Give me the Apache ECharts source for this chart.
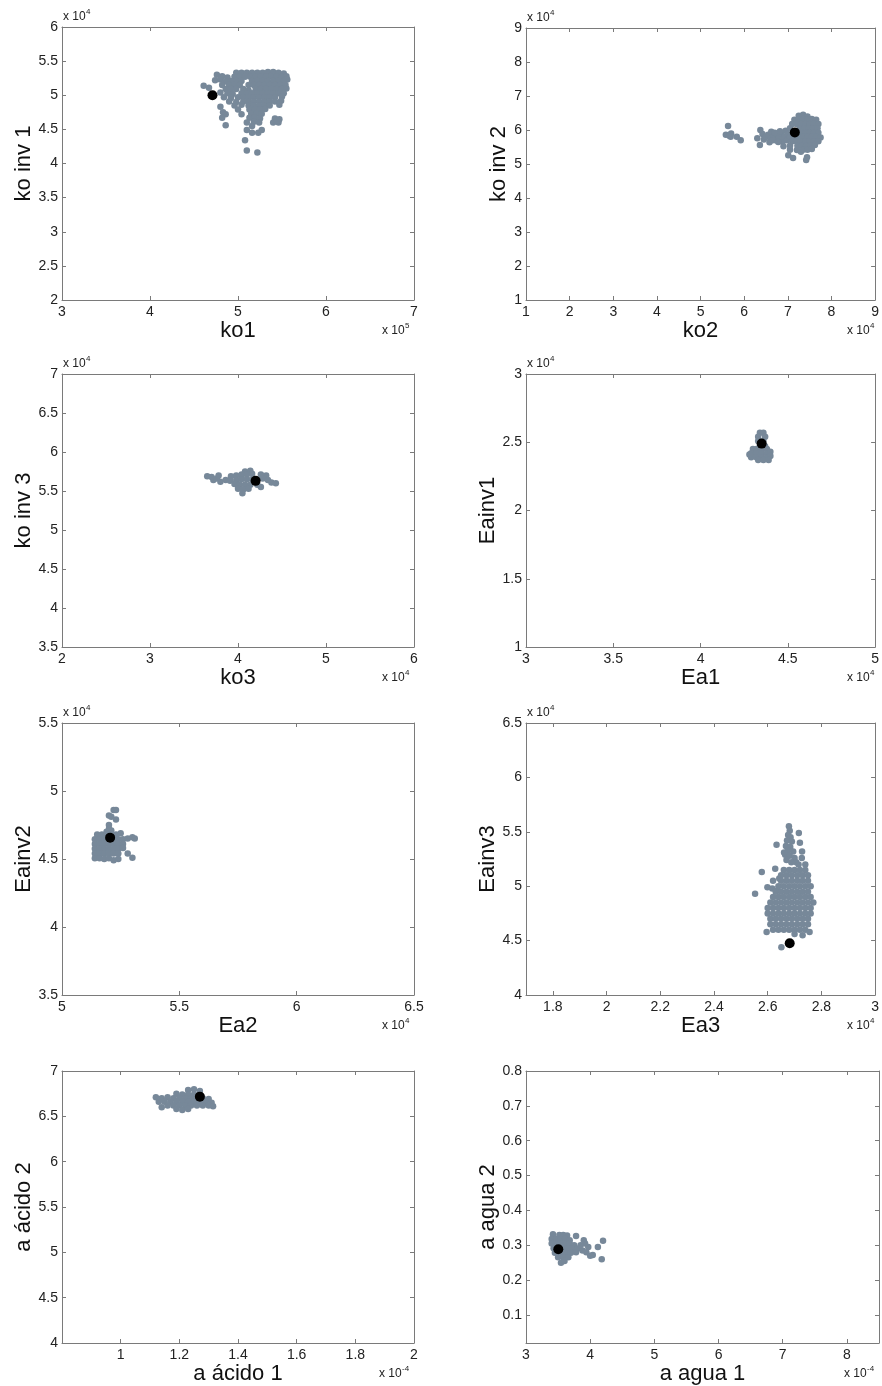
<!DOCTYPE html>
<html><head><meta charset="utf-8">
<script src="https://cdn.jsdelivr.net/npm/echarts@6/dist/echarts.min.js"></script>
<style>html,body{margin:0;padding:0;background:#fff}#c{width:882px;height:1386px}</style>
</head><body><div id="c"></div>
<script>
// ---------- data (values in the scaled units shown on the tick labels) ----------
const p1Cloud = [
[4.98,5.33],[5.04,5.33],[5.10,5.33],[5.16,5.33],[5.22,5.33],[5.28,5.33],[5.34,5.34],[5.40,5.34],[5.46,5.33],[5.52,5.32],
[4.76,5.30],[4.82,5.28],[4.88,5.26],[4.96,5.27],[5.02,5.27],[5.08,5.27],[5.14,5.27],[5.20,5.27],[5.26,5.28],[5.32,5.28],[5.38,5.28],[5.44,5.27],[5.50,5.27],[5.55,5.28],
[4.74,5.22],[4.80,5.23],[4.86,5.20],[4.92,5.21],[4.98,5.21],[5.04,5.21],[5.16,5.21],[5.22,5.21],[5.28,5.21],[5.34,5.21],[5.40,5.21],[5.46,5.21],[5.52,5.21],[5.56,5.23],
[4.61,5.14],[4.67,5.11],[4.82,5.15],[4.90,5.15],[4.96,5.15],[5.02,5.15],[5.12,5.15],[5.18,5.15],[5.24,5.15],[5.30,5.15],[5.36,5.15],[5.42,5.15],[5.48,5.15],[5.54,5.15],
[4.86,5.09],[4.92,5.09],[4.98,5.09],[5.06,5.09],[5.12,5.07],[5.20,5.09],[5.26,5.09],[5.32,5.09],[5.38,5.09],[5.44,5.09],[5.50,5.09],[5.55,5.10],
[4.80,5.04],[4.88,5.03],[4.94,5.02],[5.04,5.03],[5.10,5.03],[5.16,5.03],[5.22,5.03],[5.28,5.03],[5.34,5.03],[5.40,5.03],[5.46,5.03],[5.52,5.03],
[4.84,4.97],[4.92,4.96],[5.00,4.97],[5.06,4.97],[5.12,4.97],[5.18,4.97],[5.24,4.97],[5.30,4.97],[5.36,4.97],[5.42,4.97],[5.50,4.98],
[4.90,4.91],[4.98,4.90],[5.06,4.91],[5.12,4.91],[5.18,4.91],[5.24,4.91],[5.30,4.91],[5.36,4.91],[5.42,4.91],[5.49,4.92],
[4.80,4.83],[4.96,4.85],[5.04,4.86],[5.12,4.85],[5.18,4.85],[5.24,4.85],[5.30,4.85],[5.36,4.85],[5.47,4.86],
[4.83,4.75],[5.00,4.79],[5.13,4.79],[5.19,4.79],[5.25,4.79],[5.31,4.80],
[4.86,4.72],[5.04,4.72],[5.15,4.73],[5.21,4.73],[5.27,4.73],
[4.82,4.67],[5.13,4.67],[5.19,4.67],[5.25,4.66],[5.42,4.66],[5.47,4.65],
[5.10,4.60],[5.18,4.61],[5.24,4.60],[5.40,4.60],[5.46,4.60],[5.44,4.63],
[4.86,4.56],[5.16,4.55],
[5.10,4.49],[5.16,4.45],[5.23,4.45],[5.27,4.49],[5.08,4.34],[5.10,4.19],[5.22,4.16]
];
const p1Best = [[4.71,5.00]];

const p2Cloud = [
[5.63,6.12],[5.58,5.86],[5.70,5.90],[5.69,5.80],[5.83,5.80],[5.92,5.70],[5.66,5.83],
[6.30,5.76],[6.37,6.00],[6.36,5.56],[6.42,5.88],[6.45,5.72],[6.50,5.80],[6.55,5.86],[6.60,5.74],[6.62,5.95],[6.68,5.82],[6.72,5.70],[6.75,5.88],[6.80,5.78],[6.85,5.90],[6.88,5.66],[6.92,5.80],[6.95,5.98],[6.98,5.70],[6.90,5.52],[7.00,5.88],
[6.58,5.64],[6.65,5.70],[6.78,5.65],[6.82,5.96],[6.70,5.92],
[7.01,5.26],[7.12,5.18],[7.05,5.42],[7.21,5.41],[7.42,5.12],[7.44,5.20],[7.30,5.36],
[7.25,6.42],[7.35,6.45],[7.45,6.40],
[7.15,6.30],[7.25,6.30],[7.35,6.32],[7.45,6.30],[7.55,6.32],[7.65,6.30],
[7.10,6.18],[7.20,6.18],[7.30,6.18],[7.40,6.18],[7.50,6.18],[7.60,6.20],[7.70,6.18],
[7.05,6.05],[7.28,6.05],[7.38,6.05],[7.48,6.05],[7.58,6.05],[7.68,6.05],
[7.30,5.92],[7.40,5.92],[7.50,5.92],[7.60,5.92],[7.70,5.92],
[7.05,5.80],[7.15,5.80],[7.25,5.80],[7.35,5.80],[7.45,5.80],[7.55,5.80],[7.65,5.80],[7.75,5.78],
[7.10,5.67],[7.20,5.67],[7.30,5.67],[7.40,5.67],[7.50,5.67],[7.60,5.67],[7.70,5.67],
[7.05,5.54],[7.22,5.54],[7.32,5.54],[7.42,5.54],[7.52,5.54],[7.62,5.56],
[7.35,5.42],[7.45,5.42],[7.55,5.44]
];
const p2Best = [[7.16,5.93]];

const p3Cloud = [
[3.65,5.69],[3.70,5.68],[3.72,5.64],[3.76,5.66],[3.80,5.62],[3.78,5.70],
[4.08,5.75],[4.14,5.76],
[3.92,5.69],[3.98,5.70],[4.04,5.71],[4.10,5.71],[4.16,5.72],[4.26,5.71],[4.32,5.70],
[3.86,5.64],[3.91,5.63],[3.98,5.64],[4.04,5.65],[4.10,5.65],[4.16,5.65],[4.28,5.66],[4.34,5.64],
[3.96,5.59],[4.02,5.58],[4.08,5.58],[4.14,5.58],[4.22,5.58],[4.38,5.61],[4.43,5.60],
[4.00,5.53],[4.06,5.52],[4.12,5.53],[4.26,5.55],
[4.05,5.47]
];
const p3Best = [[4.20,5.63]];

const p4Cloud = [
[4.34,2.57],[4.36,2.57],[4.33,2.54],[4.37,2.54],[4.33,2.51],[4.36,2.51],[4.34,2.48],[4.37,2.47],
[4.30,2.45],[4.32,2.45],[4.35,2.45],[4.38,2.45],[4.29,2.42],[4.32,2.42],[4.35,2.42],[4.38,2.42],[4.40,2.43],
[4.29,2.39],[4.32,2.39],[4.35,2.39],[4.38,2.39],[4.40,2.40],[4.33,2.37],[4.36,2.37],[4.39,2.37],[4.28,2.41]
];
const p4Best = [[4.35,2.49]];

const p5Cloud = [
[5.15,4.68],[5.17,4.68],[5.19,4.68],[5.23,4.68],[5.25,4.69],
[5.14,4.645],[5.16,4.645],[5.18,4.645],[5.22,4.645],[5.24,4.645],[5.26,4.645],[5.28,4.65],[5.30,4.66],[5.31,4.65],
[5.14,4.61],[5.16,4.61],[5.18,4.61],[5.20,4.61],[5.22,4.61],[5.24,4.61],[5.26,4.61],
[5.14,4.575],[5.16,4.575],[5.18,4.575],[5.20,4.575],[5.22,4.575],[5.24,4.575],[5.26,4.58],
[5.14,4.54],[5.16,4.54],[5.18,4.54],[5.20,4.54],[5.22,4.54],[5.24,4.54],[5.28,4.54],
[5.14,4.505],[5.16,4.505],[5.18,4.50],[5.20,4.505],[5.22,4.49],[5.24,4.50],[5.30,4.51],
[5.22,4.86],[5.23,4.86],[5.20,4.82],[5.21,4.81],[5.23,4.79],[5.20,4.75],[5.20,4.72],[5.19,4.70],[5.21,4.71]
];
const p5Best = [[5.205,4.657]];

const p6Cloud = [
[2.679,5.55],[2.682,5.51],[2.676,5.47],[2.685,5.45],[2.672,5.42],[2.690,5.41],[2.668,5.37],[2.684,5.36],[2.675,5.33],[2.695,5.32],[2.665,5.29],[2.682,5.28],[2.700,5.26],[2.670,5.24],[2.688,5.22],[2.706,5.22],
[2.716,5.49],[2.720,5.40],[2.633,5.38],[2.661,5.31],[2.728,5.32],[2.727,5.26],[2.715,5.20],[2.740,5.20],
[2.578,5.13],[2.628,5.16],[2.553,4.93],[2.599,4.99],[2.617,4.98],[2.636,4.96],[2.643,5.07],[2.620,5.05],
[2.66,5.15],[2.68,5.15],[2.70,5.15],[2.72,5.15],[2.74,5.15],
[2.65,5.10],[2.67,5.10],[2.69,5.10],[2.71,5.10],[2.73,5.10],[2.75,5.10],
[2.65,5.05],[2.67,5.05],[2.69,5.05],[2.71,5.05],[2.73,5.05],[2.75,5.05],
[2.64,5.00],[2.66,5.00],[2.68,5.00],[2.70,5.00],[2.72,5.00],[2.74,5.00],[2.76,5.00],
[2.63,4.95],[2.65,4.95],[2.67,4.95],[2.69,4.95],[2.71,4.95],[2.73,4.95],[2.75,4.95],
[2.62,4.90],[2.64,4.90],[2.66,4.90],[2.68,4.90],[2.70,4.90],[2.72,4.90],[2.74,4.90],[2.76,4.90],
[2.61,4.85],[2.63,4.85],[2.65,4.85],[2.67,4.85],[2.69,4.85],[2.71,4.85],[2.73,4.85],[2.75,4.85],[2.77,4.85],
[2.60,4.80],[2.62,4.80],[2.64,4.80],[2.66,4.80],[2.68,4.80],[2.70,4.80],[2.72,4.80],[2.74,4.80],[2.76,4.80],
[2.60,4.75],[2.62,4.75],[2.64,4.75],[2.66,4.75],[2.68,4.75],[2.70,4.75],[2.72,4.75],[2.74,4.75],[2.76,4.75],
[2.61,4.70],[2.63,4.70],[2.65,4.70],[2.67,4.70],[2.69,4.70],[2.71,4.70],[2.73,4.70],[2.75,4.70],
[2.61,4.65],[2.63,4.65],[2.65,4.65],[2.67,4.65],[2.69,4.65],[2.71,4.65],[2.73,4.65],[2.75,4.65],
[2.62,4.60],[2.64,4.60],[2.66,4.60],[2.68,4.60],[2.70,4.60],[2.72,4.60],[2.74,4.60],
[2.596,4.58],[2.756,4.58],[2.651,4.44],[2.70,4.56],[2.73,4.55]
];
const p6Best = [[2.682,4.475]];

const p7Cloud = [
[1.23,6.79],[1.25,6.80],[1.27,6.78],
[1.19,6.75],[1.21,6.74],[1.23,6.74],[1.25,6.74],
[1.12,6.71],[1.14,6.70],[1.16,6.71],[1.18,6.70],[1.20,6.70],[1.22,6.70],[1.24,6.70],[1.26,6.70],[1.28,6.70],[1.30,6.69],
[1.13,6.66],[1.15,6.66],[1.17,6.66],[1.19,6.66],[1.21,6.66],[1.23,6.66],[1.25,6.66],[1.27,6.66],[1.29,6.66],[1.31,6.65],
[1.16,6.62],[1.18,6.62],[1.20,6.62],[1.22,6.62],[1.24,6.62],[1.26,6.62],[1.28,6.62],[1.30,6.62],[1.315,6.61],
[1.19,6.58],[1.21,6.57],[1.23,6.58],
[1.14,6.60]
];
const p7Best = [[1.27,6.717]];

const p8Cloud = [
[3.42,0.332],[3.52,0.33],[3.58,0.33],[3.64,0.328],
[3.40,0.318],[3.47,0.318],[3.54,0.318],[3.61,0.318],[3.68,0.315],[3.78,0.327],
[3.40,0.305],[3.47,0.305],[3.54,0.305],[3.61,0.305],[3.68,0.305],[3.75,0.30],
[3.43,0.292],[3.58,0.292],[3.65,0.292],[3.72,0.292],[3.80,0.29],
[3.45,0.279],[3.55,0.279],[3.62,0.279],[3.70,0.279],[3.78,0.28],
[3.50,0.266],[3.58,0.266],[3.66,0.266],
[3.545,0.25],[3.60,0.255],
[3.90,0.315],[3.97,0.295],[3.88,0.285],[3.94,0.28],[4.04,0.272],[4.12,0.295],[4.20,0.313],[4.18,0.26],[4.00,0.27],[3.85,0.30],[3.92,0.305]
];
const p8Best = [[3.503,0.289]];

const xNames = ['ko1','ko2','ko3','Ea1','Ea2','Ea3','a ácido 1','a agua 1'];
const yNames = ['ko inv 1','ko inv 2','ko inv 3','Eainv1','Eainv2','Eainv3','a ácido 2','a agua 2'];
const xRanges = [[3,7],[1,9],[2,6],[3,5],[5,6.5],[1.7,3],[0.8,2],[3,8.5]];
const yRanges = [[2,6],[1,9],[3.5,7],[1,3],[3.5,5.5],[4,6.5],[4,7],[0.02,0.8]];
const xTicks = [[3,4,5,6,7],[1,2,3,4,5,6,7,8,9],[2,3,4,5,6],[3,3.5,4,4.5,5],[5,5.5,6,6.5],
  [1.8,2,2.2,2.4,2.6,2.8,3],[1,1.2,1.4,1.6,1.8,2],[3,4,5,6,7,8]];
const yTicks = [[2,2.5,3,3.5,4,4.5,5,5.5,6],[1,2,3,4,5,6,7,8,9],[3.5,4,4.5,5,5.5,6,6.5,7],[1,1.5,2,2.5,3],
  [3.5,4,4.5,5,5.5],[4,4.5,5,5.5,6,6.5],[4,4.5,5,5.5,6,6.5,7],[0.1,0.2,0.3,0.4,0.5,0.6,0.7,0.8]];
const xExp = ['5','4','4','4','4','4','-4','-4'];
const yExp = ['4','4','4','4','4','4',null,null];
const clouds = [p1Cloud,p2Cloud,p3Cloud,p4Cloud,p5Cloud,p6Cloud,p7Cloud,p8Cloud];
const bests = [p1Best,p2Best,p3Best,p4Best,p5Best,p6Best,p7Best,p8Best];

// ---------- layout / style ----------
const rects = [[62,27,352,273],[526,28,353,272],[62,374,352,273],[526,374,353,273],
  [62,723,352,272],[526,723,353,272],[62,1071,352,272],[526,1071,353,272]];
const yNameGap = [26,12,26,26,26,26,26,26];
const FONT = 'Liberation Sans, Arial, sans-serif';
const AX = '#7a7a7a';
const TXT = '#222';

const grids=[], xAxes=[], yAxes=[], series=[], graphics=[];
rects.forEach((r,i)=>{
  const [l,t,w,h]=r;
  grids.push({left:l, top:t, width:w, height:h});
  const base = {type:'value', gridIndex:i, splitLine:{show:false},
    axisLine:{show:true,onZero:false,lineStyle:{color:AX,width:1}}};
  const lbl = {margin:5,color:TXT,fontSize:14,fontFamily:FONT,showMinLabel:true,showMaxLabel:true};
  xAxes.push(Object.assign({}, base, {position:'bottom', min:xRanges[i][0], max:xRanges[i][1],
    axisTick:{show:true,inside:true,length:4,customValues:xTicks[i],lineStyle:{color:AX}},
    axisLabel:Object.assign({customValues:xTicks[i]}, lbl),
    name:xNames[i], nameLocation:'middle', nameGap:17,
    nameTextStyle:{fontSize:22,color:'#111',fontFamily:FONT}}));
  xAxes.push(Object.assign({}, base, {position:'top', min:xRanges[i][0], max:xRanges[i][1],
    axisTick:{show:true,inside:true,length:4,customValues:xTicks[i],lineStyle:{color:AX}},
    axisLabel:{show:false}}));
  yAxes.push(Object.assign({}, base, {position:'left', min:yRanges[i][0], max:yRanges[i][1],
    axisTick:{show:true,inside:true,length:4,customValues:yTicks[i],lineStyle:{color:AX}},
    axisLabel:Object.assign({customValues:yTicks[i]}, lbl, {margin:4}),
    name:yNames[i], nameLocation:'middle', nameGap:yNameGap[i],
    nameTextStyle:{fontSize:22,color:'#111',fontFamily:FONT}}));
  yAxes.push(Object.assign({}, base, {position:'right', min:yRanges[i][0], max:yRanges[i][1],
    axisTick:{show:true,inside:true,length:4,customValues:yTicks[i],lineStyle:{color:AX}},
    axisLabel:{show:false}}));
  series.push({type:'scatter', xAxisIndex:2*i, yAxisIndex:2*i, data:clouds[i],
    symbolSize:6.5, itemStyle:{color:'#778899', opacity:1}, silent:true});
  series.push({type:'scatter', xAxisIndex:2*i, yAxisIndex:2*i, data:bests[i],
    symbolSize:10, itemStyle:{color:'#000', opacity:1}, silent:true, z:3});
  // exponent labels
  const ts = {fontFamily:FONT, fill:TXT};
  if (yExp[i]) {
    graphics.push({type:'text', left:l+1, top:t-16, style:Object.assign({text:'x 10', fontSize:12}, ts)});
    graphics.push({type:'text', left:l+24, top:t-19, style:Object.assign({text:yExp[i], fontSize:8}, ts)});
  }
  const sw = xExp[i].length>1 ? 8 : 5;
  graphics.push({type:'text', left:l+w-4-sw-23, top:t+h+25, style:Object.assign({text:'x 10', fontSize:12}, ts)});
  graphics.push({type:'text', left:l+w-4-sw, top:t+h+22, style:Object.assign({text:xExp[i], fontSize:8}, ts)});
});

const chart = echarts.init(document.getElementById('c'), null, {renderer:'canvas'});
chart.setOption({animation:false, backgroundColor:'#fff', grid:grids, xAxis:xAxes, yAxis:yAxes, series:series, graphic:graphics});
</script></body></html>
